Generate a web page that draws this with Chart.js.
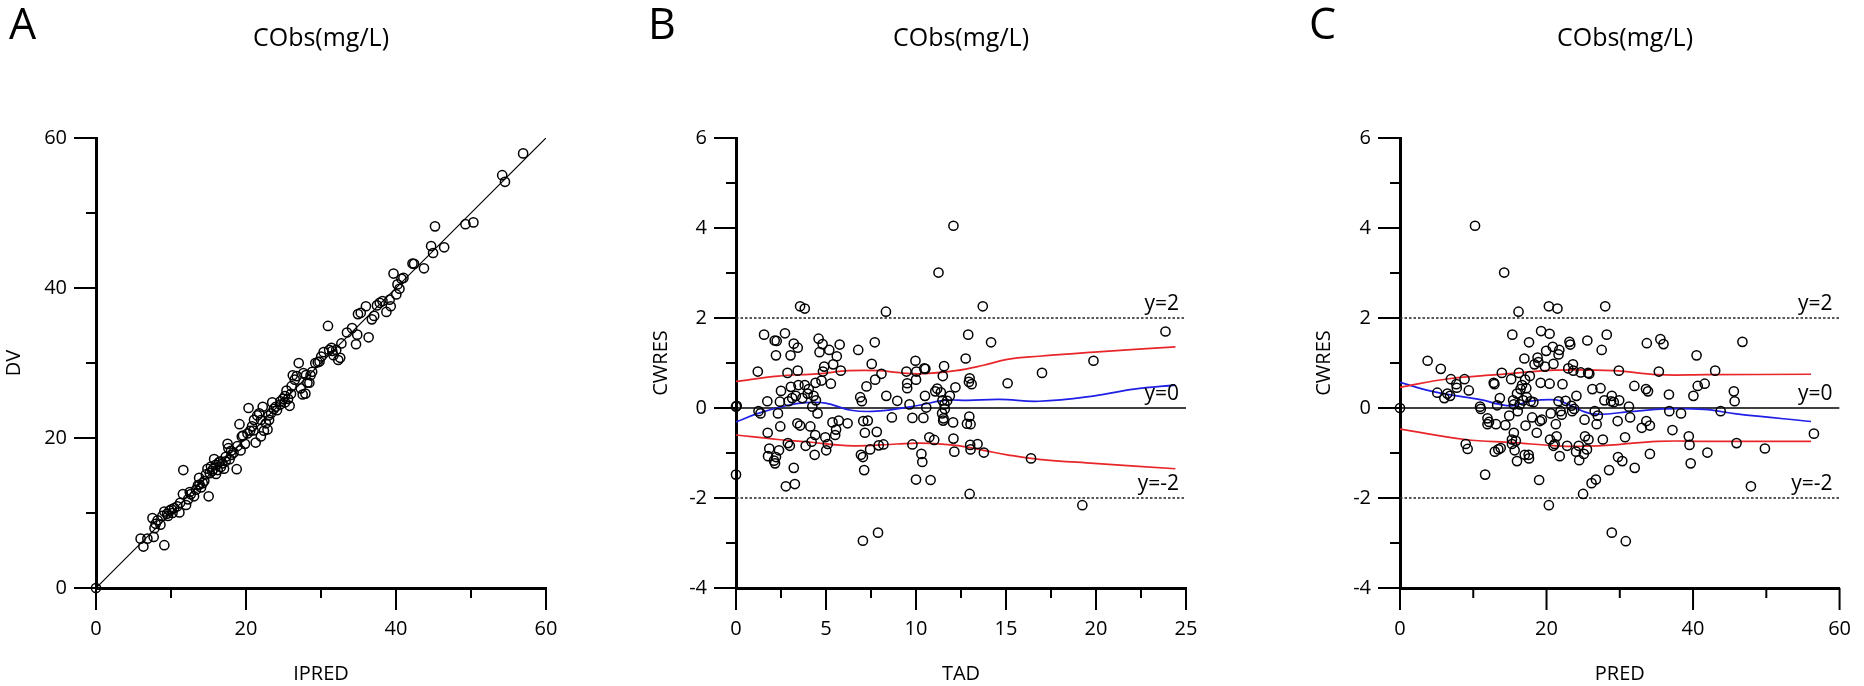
<!DOCTYPE html>
<html>
<head>
<meta charset="utf-8">
<script src="https://cdn.jsdelivr.net/npm/chart.js@4.4.1/dist/chart.umd.min.js"></script>
<style>
  html, body { margin: 0; padding: 0; background: #fff; }
  body { width: 1864px; height: 686px; position: relative; overflow: hidden; font-family: "Open Sans", sans-serif; color: #000; }
  canvas { position: absolute; top: 0; }
  .tag { position: absolute; font-size: 43px; line-height: 1; }
  .ttl { position: absolute; font-size: 25px; line-height: 1; white-space: nowrap; transform: translateX(-50%); }
</style>
</head>
<body>
<canvas id="panelA" width="620" height="686" style="left:0px"></canvas>
<canvas id="panelB" width="620" height="686" style="left:620px"></canvas>
<canvas id="panelC" width="640" height="686" style="left:1240px"></canvas>

<div class="tag" style="left:9px;top:1px">A</div>
<div class="tag" style="left:648px;top:1px">B</div>
<div class="tag" style="left:1309px;top:1px">C</div>
<div class="ttl" style="left:321px;top:24px">CObs(mg/L)</div>
<div class="ttl" style="left:961px;top:24px">CObs(mg/L)</div>
<div class="ttl" style="left:1625px;top:24px">CObs(mg/L)</div>

<script>
// ---- panel A : DV vs IPRED ----
const ipredA = [0, 5.95, 6.32, 6.85, 7.53, 7.69, 7.80, 7.96, 8.22, 8.59, 8.85, 9.11, 9.11, 9.48, 9.80, 10.06, 10.43, 10.85, 11.12, 11.22,
  11.59, 11.64, 12.01, 12.28, 12.64, 13.07, 13.33, 13.59, 13.75, 14.01, 14.23, 14.44, 14.65, 14.86, 15.02, 15.17, 15.33, 15.60, 15.75, 15.96,
  16.23, 16.39, 16.65, 16.86, 17.07, 17.28, 17.54, 17.65, 17.81, 18.07, 18.34, 18.76, 18.86, 19.13, 19.28, 19.44, 19.60, 19.86, 20.34, 20.55,
  20.81, 21.07, 21.29, 21.50, 21.76, 21.98, 22.23, 22.39, 22.66, 22.87, 23.08, 23.34, 23.50, 23.71, 23.97, 24.13, 24.55, 24.92, 25.18, 25.40,
  25.61, 25.82, 26.08, 26.24, 26.50, 26.77, 27.03, 27.29, 27.56, 27.66, 27.92, 28.19, 28.45, 28.61, 28.82, 29.24, 29.56, 30.03, 30.35, 30.93,
  31.09, 31.40, 31.67, 32.03, 32.30, 32.56, 32.72, 33.46, 34.14, 34.67, 34.83, 34.93, 35.30, 35.99, 36.35, 36.78, 37.09, 37.46, 37.83, 38.20,
  38.72, 39.15, 39.30, 39.67, 40.04, 40.20, 40.46, 40.73, 40.99, 42.20, 42.41, 43.73, 44.68, 44.94, 45.20, 46.42, 49.26, 50.32, 54.16, 54.53,
  56.95, 15.5, 16.0, 16.6, 17.3, 18.0, 20.2, 21.0, 22.0, 23.0, 24.6, 25.2, 26.0, 28.0, 29.8, 31.5, 12.5, 13.8, 10.2, 9.6];
const dvA = [0, 6.58, 5.53, 6.58, 9.32, 6.81, 7.98, 8.56, 9.03, 8.44, 9.61, 5.71, 10.19, 9.90, 10.31, 10.48, 10.66, 10.89, 10.08, 11.36,
  12.52, 15.73, 11.07, 11.82, 12.52, 12.23, 13.10, 13.69, 14.68, 13.40, 13.98, 14.27, 15.14, 15.90, 12.23, 15.32, 16.19, 15.84, 17.18, 16.42,
  15.73, 16.77, 16.13, 16.60, 15.90, 16.89, 19.22, 18.64, 17.18, 17.76, 18.05, 15.84, 18.93, 21.84, 18.35, 20.21, 20.33, 19.22, 24.00, 20.97,
  21.55, 22.42, 19.39, 23.01, 23.30, 20.21, 24.17, 20.97, 21.96, 21.14, 22.42, 23.30, 24.75, 23.88, 24.17, 23.70, 24.46, 25.22, 24.75, 26.33,
  25.22, 24.29, 26.91, 28.36, 27.78, 28.25, 29.99, 26.62, 25.80, 28.65, 25.92, 27.37, 27.37, 28.36, 28.83, 30.00, 30.11, 30.87, 31.45, 34.94,
  31.74, 32.03, 31.04, 31.74, 30.40, 30.69, 32.61, 34.07, 34.65, 32.50, 33.78, 36.52, 36.69, 37.57, 33.43, 35.82, 36.28, 37.68, 38.03, 38.26,
  36.81, 38.44, 37.57, 41.93, 39.14, 40.48, 39.90, 41.23, 41.35, 43.27, 43.22, 42.63, 45.60, 44.67, 48.22, 45.43, 48.51, 48.75, 55.04, 54.16,
  57.95, 15.6, 15.2, 16.9, 17.5, 18.3, 20.6, 21.0, 22.4, 23.0, 24.9, 25.6, 25.9, 28.4, 30.2, 31.6, 12.8, 13.8, 10.0, 9.6];
const identityEnds = [0, 60];

// ---- panel B : CWRES vs TAD ----
const tadB = [0, 0.04, 0, 1.21, 1.25, 1.36, 1.56, 1.74, 1.76, 1.78, 1.85, 2.15, 2.26, 2.22, 2.11, 2.17, 2.22, 2.39, 2.46, 2.33,
  2.44, 2.50, 2.72, 2.86, 2.77, 2.88, 2.92, 2.99, 3.03, 3.05, 3.12, 3.21, 3.21, 3.27, 3.32, 3.43, 3.43, 3.47, 3.41, 3.56,
  3.82, 3.56, 3.69, 3.82, 3.87, 3.98, 4.04, 4.13, 4.20, 4.24, 4.31, 4.37, 4.40, 4.42, 4.44, 4.53, 4.59, 4.64, 4.75, 4.81,
  4.83, 4.90, 4.96, 5.01, 5.10, 5.18, 5.27, 5.36, 5.40, 5.51, 5.56, 5.60, 5.71, 5.76, 5.82, 6.20, 6.79, 6.90, 6.99, 7.07,
  6.94, 7.05, 7.12, 7.16, 7.05, 7.25, 7.32, 7.45, 7.54, 7.71, 7.73, 7.82, 7.89, 7.93, 8.08, 8.19, 8.33, 8.35, 8.66, 8.96,
  9.47, 9.51, 9.51, 9.64, 9.80, 9.80, 9.97, 10.00, 10.02, 10.00, 10.30, 10.35, 10.41, 10.46, 10.52, 10.50, 10.57, 10.74, 10.81, 11.01,
  11.07, 11.18, 11.25, 11.38, 11.45, 11.47, 11.51, 11.49, 11.56, 11.60, 11.53, 11.58, 11.73, 11.88, 12.06, 12.08, 12.13, 12.08, 12.19, 12.76,
  12.83, 12.90, 12.96, 12.94, 13.03, 13.03, 13.01, 13.09, 12.98, 13.42, 13.71, 13.77, 14.17, 15.09, 16.39, 17.00, 19.24, 19.86, 23.86, 12.98];
const cwresB = [0.03, 0.05, -1.48, 0.81, -0.07, -0.12, 1.63, 0.15, -0.55, -1.07, -0.90, 1.50, 1.49, 1.17, -1.17, -1.23, -1.09, -0.94, -0.41, -0.12,
  0.14, 0.38, 1.66, 0.78, -1.74, -0.78, 0.15, -0.84, 1.17, 0.47, 0.22, 1.43, -1.33, -1.69, 0.27, 0.83, 1.34, 0.51, -0.34, 2.26,
  2.21, -0.39, 0.22, 0.51, -0.84, 0.32, 0.42, -0.41, -0.75, 0.03, 0.27, -1.04, -0.60, 0.56, 0.17, -0.12, 1.54, 1.24, 0.61, 1.42,
  0.81, 0.92, -0.65, -0.94, -0.80, 1.29, 0.54, -0.32, 0.97, -0.60, -0.48, 1.15, -0.28, 1.41, 0.83, -0.34, 1.29, 0.24, 0.15, -0.29,
  -1.04, -1.09, -1.38, -0.55, -2.95, 0.48, -0.28, -0.92, 0.98, 1.46, 0.63, -0.53, -2.77, -0.83, 0.76, -0.81, 2.14, 0.27, -0.21, 0.16,
  0.81, 0.55, 0.44, 0.08, -0.22, -0.81, 1.05, 0.63, 0.81, -1.59, -1.02, -1.20, -0.22, 0.88, 0.87, 0.27, 0.01, -0.65, -1.60, -0.71,
  0.37, 0.43, 3.01, 0.35, -0.12, 0.17, -0.28, 0.71, 0.93, -0.02, -0.23, 0.08, 0.16, 0.27, -0.32, -0.68, -0.97, 4.05, 0.46, 1.10,
  -0.35, 1.63, -0.19, 0.58, -0.36, -0.92, -0.82, 0.53, -1.91, -0.80, 2.26, -0.99, 1.46, 0.55, -1.12, 0.78, -2.16, 1.05, 1.70, 0.66];
const loessTadB = [0, 1.23, 2.77, 3.87, 4.97, 6.39, 7.82, 10.02, 11.56, 12.88, 14.65, 16.85, 19.92, 22.12, 24.41];
const loessB = [-0.31, -0.12, 0.05, 0.12, 0.11, -0.05, -0.07, 0.05, 0.17, 0.17, 0.19, 0.15, 0.27, 0.42, 0.51];
const upperTadB = [0, 2.33, 4.53, 6.28, 8.04, 8.92, 10.24, 12.21, 13.75, 15.07, 16.83, 19.9, 24.41];
const upperB = [0.59, 0.71, 0.76, 0.83, 0.83, 0.79, 0.76, 0.83, 0.95, 1.08, 1.15, 1.24, 1.36];
const lowerTadB = [0, 2.33, 3.87, 6.5, 8.92, 10.24, 12.21, 13.75, 15.07, 16.83, 19.9, 24.41];
const lowerB = [-0.60, -0.70, -0.75, -0.84, -0.80, -0.78, -0.83, -0.94, -1.04, -1.14, -1.23, -1.35];

// ---- panel C : CWRES vs PRED ----
const predC = [0, 3.77, 5.09, 5.57, 6.05, 6.47, 6.84, 6.95, 7.69, 7.75, 8.81, 8.97, 9.23, 9.39, 10.24, 10.93, 11.03, 11.62, 11.94, 11.94,
  12.15, 12.79, 12.89, 12.94, 13.10, 13.26, 13.42, 13.63, 13.74, 13.90, 14.22, 14.38, 14.91, 15.17, 15.28, 15.28, 15.33, 15.44, 15.54, 15.54,
  15.65, 15.81, 15.97, 15.97, 16.07, 16.18, 16.23, 16.34, 16.45, 16.66, 16.82, 16.98, 17.03, 17.08, 17.14, 17.24, 17.29, 17.56, 17.61, 17.61,
  17.72, 17.82, 18.04, 18.20, 18.36, 18.67, 18.78, 18.89, 18.99, 19.10, 19.20, 19.26, 19.36, 19.79, 19.95, 20.32, 20.32, 20.42, 20.48, 20.42,
  20.58, 20.85, 20.95, 20.95, 21.11, 21.27, 21.38, 21.49, 21.64, 21.75, 21.64, 21.80, 21.91, 22.07, 22.18, 22.60, 22.81, 22.97, 23.13, 23.24,
  23.40, 23.50, 23.61, 23.66, 23.77, 24.03, 24.08, 24.40, 24.46, 24.67, 24.99, 25.09, 25.19, 25.25, 25.52, 25.57, 25.68, 25.73, 25.84, 26.15,
  26.26, 26.58, 26.74, 26.84, 27.00, 27.37, 27.53, 27.69, 27.90, 28.01, 28.22, 28.54, 28.81, 28.91, 28.91, 29.18, 29.71, 29.76, 29.87, 29.92,
  30.34, 30.72, 30.82, 31.25, 31.41, 31.99, 32.04, 33.00, 33.58, 33.63, 33.69, 33.85, 34.11, 34.11, 35.33, 35.54, 35.97, 36.71, 36.76, 37.19,
  38.36, 39.42, 39.52, 39.68, 40.05, 40.48, 40.64, 41.59, 41.96, 43.02, 43.77, 45.57, 45.68, 45.94, 46.74, 47.90, 49.81, 56.50];
const cwresC = [0, 1.05, 0.34, 0.87, 0.22, 0.32, 0.27, 0.64, 0.53, 0.45, 0.64, -0.80, -0.91, 0.39, 4.05, 0.03, -0.02, -1.48, -0.23, -0.36,
  -0.31, 0.56, 0.53, -0.97, -0.36, 0.06, -0.92, 0.22, -0.89, 0.78, 3.01, -0.38, -0.17, 0.64, -0.70, -0.80, 1.63, 0.17, -0.55, 0.08,
  -0.94, -0.73, -1.18, 0.32, -0.07, 2.14, 0.78, 0.08, 0.42, 0.51, 0.17, 1.10, -1.04, 0.63, -0.39, 0.44, 0.24, -1.04, -1.12, 1.46,
  0.71, 0.15, -0.21, 0.13, 0.97, -0.55, 1.12, 1.02, -1.60, -0.29, 0.56, 1.71, -0.26, 0.92, 1.27, 2.26, -2.16, 0.54, -0.70, 1.65,
  -0.12, 1.36, 0.98, -0.84, -0.80, -0.36, -0.63, 2.21, 1.19, 1.29, 0.15, -1.07, -0.07, -0.15, 0.53, 0.16, -0.84, 0.88, 1.47, 1.41,
  0.05, -0.07, 0.97, 0.83, -0.02, -0.97, 0.27, -0.84, -1.16, 0.79, -1.91, -1.02, -0.26, -0.63, -0.92, 1.50, 0.78, -0.70, 0.76, -1.67,
  0.42, -0.07, -1.59, -0.36, -0.17, 0.44, 1.29, -0.70, 0.17, 2.26, 1.63, -1.38, 0.15, 0.27, -2.77, 0.13, -0.29, -1.09, 0.83, 0.17,
  -1.18, -0.65, -2.96, 0.03, -0.21, 0.49, -1.33, -0.44, 0.42, -0.29, 1.44, 0.37, -0.39, -1.02, 0.81, 1.53, 1.42, 0.30, -0.07, -0.49,
  -0.12, -0.63, -0.82, -1.23, 0.27, 1.17, 0.49, 0.54, -0.99, 0.83, -0.07, 0.37, 0.15, -0.78, 1.47, -1.74, -0.90, -0.57];
const loessPredC = [0, 4.4, 8.9, 11.5, 13.3, 15.5, 17.7, 21.3, 23.1, 26.2, 31.5, 36.0, 41.5, 45.9, 56.1];
const loessC = [0.57, 0.37, 0.24, 0.17, 0.09, 0.05, 0.15, 0.18, 0.07, -0.13, -0.08, -0.02, -0.03, -0.13, -0.30];
const upperPredC = [0, 6.65, 13.3, 21.3, 29.2, 35.1, 41.8, 56.1];
const upperC = [0.46, 0.65, 0.74, 0.84, 0.83, 0.74, 0.74, 0.75];
const lowerPredC = [0, 8.9, 15.5, 21.3, 25.0, 29.2, 35.1, 41.8, 56.1];
const lowerC = [-0.47, -0.70, -0.77, -0.84, -0.85, -0.82, -0.74, -0.74, -0.74];

// reference lines for residual panels
const refLevels = [2, 0, -2];
const refLabels = ["y=2", "y=0", "y=-2"];

const ink = "#000";
const redLine = "#e8262a";
const blueLine = "#1f1fe6";
const fontFamily = "'Open Sans', sans-serif";

function zip(xs, ys) {
    return xs.map((x, i) => ({ x: x, y: ys[i] }));
}

function pointsSet(xs, ys) {
    return {
        type: "scatter",
        data: zip(xs, ys),
        pointStyle: "circle",
        pointRadius: 4.6,
        pointBorderWidth: 1.5,
        borderColor: ink,
        backgroundColor: "rgba(0,0,0,0)",
        clip: false,
        order: 0
    };
}

function curveSet(xs, ys, color) {
    return {
        type: "line",
        data: zip(xs, ys),
        borderColor: color,
        borderWidth: 1.7,
        pointRadius: 0,
        tension: 0.4,
        fill: false,
        order: 1
    };
}

function refSets(xMin, xMax) {
    return refLevels.map(v => ({
        type: "line",
        data: [{ x: xMin, y: v }, { x: xMax, y: v }],
        borderColor: v === 0 ? ink : "#222",
        borderWidth: v === 0 ? 1.6 : 1.3,
        borderDash: v === 0 ? [] : [2.5, 2],
        pointRadius: 0,
        order: 2
    }));
}

// major/minor outward ticks + reference labels
const axisDeco = {
    id: "axisDeco",
    afterDraw(chart, args, opts) {
        const ctx = chart.ctx;
        const area = chart.chartArea;
        ctx.save();
        ctx.strokeStyle = ink;
        ctx.lineWidth = 2;
        ["x", "y"].forEach(k => {
            const s = chart.scales[k];
            const st = opts.steps[k];
            const n = Math.round((s.max - s.min) / st.minor);
            for (let i = 0; i <= n; i++) {
                const v = s.min + i * st.minor;
                const r = v / st.major;
                const len = Math.abs(r - Math.round(r)) < 1e-6 ? 22 : 10;
                const p = s.getPixelForValue(v);
                ctx.beginPath();
                if (k === "x") {
                    ctx.moveTo(p, area.bottom);
                    ctx.lineTo(p, area.bottom + len);
                } else {
                    ctx.moveTo(area.left, p);
                    ctx.lineTo(area.left - len, p);
                }
                ctx.stroke();
            }
        });
        if (opts.refs) {
            ctx.fillStyle = ink;
            ctx.font = "21px " + fontFamily;
            ctx.textAlign = "right";
            ctx.textBaseline = "alphabetic";
            refLevels.forEach((v, i) => {
                ctx.fillText(refLabels[i], area.right - 7, chart.scales.y.getPixelForValue(v) - 8);
            });
        }
        ctx.restore();
    }
};

function makePanel(id, p) {
    const el = document.getElementById(id);
    const tickFont = { family: fontFamily, size: 20 };
    return new Chart(el.getContext("2d"), {
        data: { datasets: p.datasets },
        options: {
            responsive: false,
            animation: false,
            devicePixelRatio: 1,
            layout: { padding: { left: 0, right: p.padRight, top: 138, bottom: 0 } },
            plugins: {
                legend: { display: false },
                tooltip: { enabled: false },
                axisDeco: { steps: p.steps, refs: p.refs }
            },
            scales: {
                x: {
                    type: "linear",
                    min: p.xRange[0],
                    max: p.xRange[1],
                    afterFit: s => { s.height = 98; },
                    grid: { display: false, drawTicks: false },
                    border: { display: true, width: 3, color: ink },
                    ticks: { stepSize: p.steps.x.major, padding: 29, color: ink, font: tickFont, maxRotation: 0, autoSkip: false },
                    title: { display: true, text: p.xTitle, color: ink, font: tickFont, padding: 0 }
                },
                y: {
                    type: "linear",
                    min: p.yRange[0],
                    max: p.yRange[1],
                    afterFit: s => { s.width = p.yWidth; },
                    grid: { display: false, drawTicks: false },
                    border: { display: true, width: 3, color: ink },
                    ticks: { stepSize: p.steps.y.major, padding: 29, color: ink, font: tickFont, autoSkip: false },
                    title: { display: true, text: p.yTitle, color: ink, font: tickFont, padding: { top: p.yTitlePad, bottom: 0 } }
                }
            }
        },
        plugins: [axisDeco]
    });
}

makePanel("panelA", {
    yWidth: 96, padRight: 74, yTitlePad: 2,
    xRange: [0, 60], yRange: [0, 60],
    steps: { x: { major: 20, minor: 10 }, y: { major: 20, minor: 10 } },
    xTitle: "IPRED", yTitle: "DV", refs: false,
    datasets: [
        { type: "line", data: zip(identityEnds, identityEnds), borderColor: ink, borderWidth: 1.2, pointRadius: 0, order: 1 },
        pointsSet(ipredA, dvA)
    ]
});

makePanel("panelB", {
    yWidth: 116, padRight: 54, yTitlePad: 29,
    xRange: [0, 25], yRange: [-4, 6],
    steps: { x: { major: 5, minor: 2.5 }, y: { major: 2, minor: 1 } },
    xTitle: "TAD", yTitle: "CWRES", refs: true,
    datasets: refSets(0, 25).concat([
        curveSet(upperTadB, upperB, redLine),
        curveSet(lowerTadB, lowerB, redLine),
        curveSet(loessTadB, loessB, blueLine),
        pointsSet(tadB, cwresB)
    ])
});

makePanel("panelC", {
    yWidth: 160, padRight: 29, yTitlePad: 72,
    xRange: [0, 60], yRange: [-4, 6],
    steps: { x: { major: 20, minor: 10 }, y: { major: 2, minor: 1 } },
    xTitle: "PRED", yTitle: "CWRES", refs: true,
    datasets: refSets(0, 60).concat([
        curveSet(upperPredC, upperC, redLine),
        curveSet(lowerPredC, lowerC, redLine),
        curveSet(loessPredC, loessC, blueLine),
        pointsSet(predC, cwresC)
    ])
});
</script>
</body>
</html>
